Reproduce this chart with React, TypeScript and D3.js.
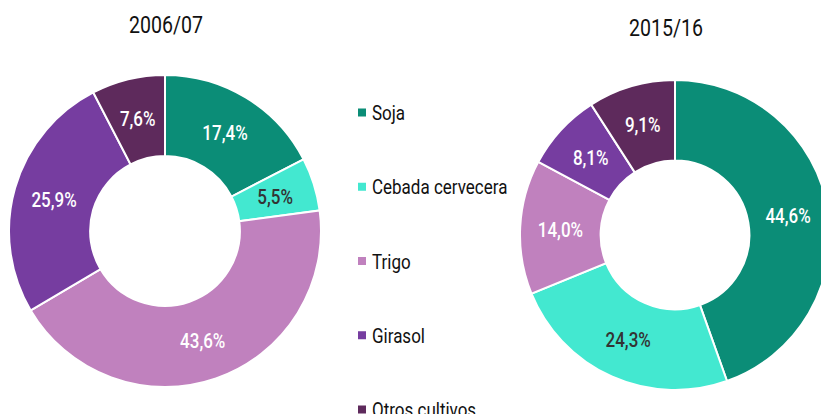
import React, { useRef, useEffect } from "react";
import * as d3 from "d3";

const categories = ["Soja", "Cebada cervecera", "Trigo", "Girasol", "Otros cultivos"];
const colors = ["#0b8d77", "#43e8d0", "#c081be", "#763da0", "#5e2a5c"];
const labelColors = ["#ffffff", "#333333", "#ffffff", "#ffffff", "#ffffff"];
const values2006 = [17.4, 5.5, 43.6, 25.9, 7.6];
const values2015 = [44.6, 24.3, 14.0, 8.1, 9.1];
const titles = ["2006/07", "2015/16"];

const FONT = "Roboto, 'Noto Sans', sans-serif";
const SQUEEZE = 0.85; // the original uses a condensed face

type Sel = d3.Selection<SVGGElement, unknown, null, undefined>;

// text drawn in a horizontally squeezed group to mimic a condensed font
const condensedText = (
  parent: Sel,
  x: number,
  y: number,
  text: string,
  size: number,
  fill: string,
  anchor = "start",
  weight = 400
) => {
  parent
    .append("g")
    .attr("transform", `translate(${x},${y}) scale(${SQUEEZE},1)`)
    .append("text")
    .attr("text-anchor", anchor)
    .attr("font-size", size)
    .attr("font-weight", weight)
    .attr("fill", fill)
    .text(text);
};

const App = () => {
  const svgRef = useRef<SVGSVGElement>(null);

  useEffect(() => {
    if (!svgRef.current) return;
    const svg = d3.select(svgRef.current);
    svg.selectAll("*").remove();

    const width = 821;
    const height = 414;
    svg.attr("width", width).attr("height", height).style("font-family", FONT);
    const root = svg.append("g") as unknown as Sel;

    const donuts = [
      { title: titles[0], values: values2006, cx: 165, cy: 231, r: 156, tx: 166, ty: 33 },
      { title: titles[1], values: values2015, cx: 675, cy: 235, r: 155, tx: 666, ty: 36 },
    ];

    const pie = d3
      .pie<number>()
      .sort(null)
      .value((d) => d);

    donuts.forEach((dn) => {
      const inner = dn.r * 0.48;
      const arc = d3.arc<d3.PieArcDatum<number>>().innerRadius(inner).outerRadius(dn.r);
      const g = root.append("g").attr("transform", `translate(${dn.cx},${dn.cy})`) as Sel;
      const arcs = pie(dn.values);

      g.selectAll("path")
        .data(arcs)
        .join("path")
        .attr("d", arc)
        .attr("fill", (_, i) => colors[i])
        .attr("stroke", "#fff")
        .attr("stroke-width", 2);

      arcs.forEach((d, i) => {
        const [lx, ly] = arc.centroid(d);
        condensedText(g, lx, ly + 7.5, d.data.toFixed(1).replace(".", ",") + "%", 20, labelColors[i], "middle", 500);
      });

      condensedText(root, dn.tx, dn.ty, dn.title, 23, "#111", "middle");
    });

    // Legend
    const legend = root.append("g") as Sel;
    const ly = d3.scaleLinear().domain([0, categories.length - 1]).range([120, 417]);
    categories.forEach((c, i) => {
      legend
        .append("rect")
        .attr("x", 358)
        .attr("y", ly(i) - 11.5)
        .attr("width", 8)
        .attr("height", 8)
        .attr("fill", colors[i]);
      condensedText(legend, 372, ly(i), c, 20, "#111");
    });
  }, []);

  return <svg ref={svgRef} style={{ position: "absolute", left: 0, top: 0 }}></svg>;
};

export default App;
